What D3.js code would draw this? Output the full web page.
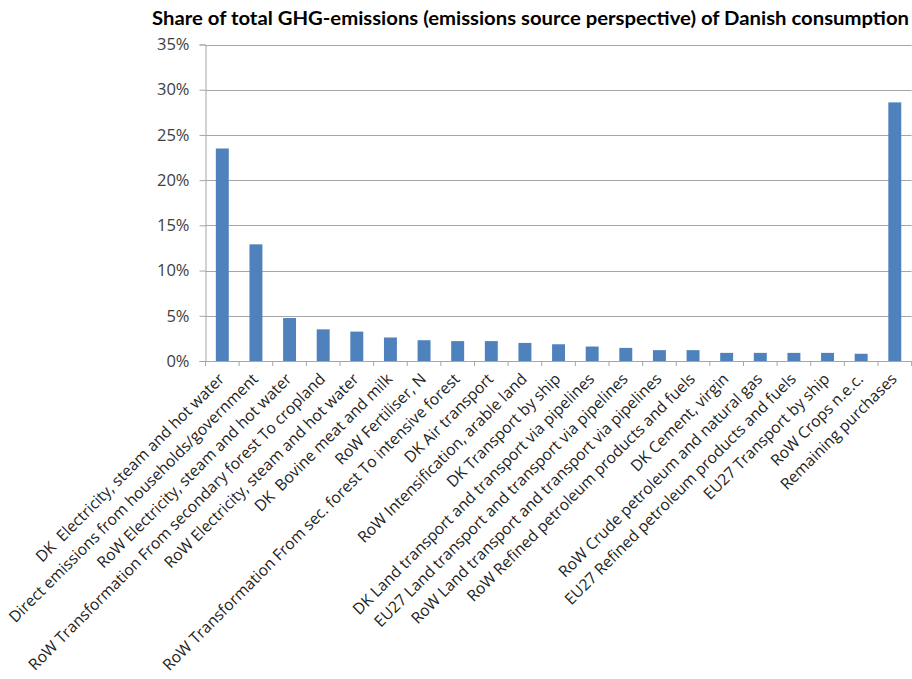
<!DOCTYPE html>
<html>
<head>
<meta charset="utf-8">
<script src="https://cdn.jsdelivr.net/npm/d3@7"></script>
<style>
  html, body { margin: 0; padding: 0; background: #fff; }
  svg { display: block; }
  text { white-space: pre; }
</style>
</head>
<body>
<svg id="chart" width="912" height="679"></svg>
<script>
const title = "Share of total GHG-emissions (emissions source perspective) of Danish consumption";
const categories = [
  "DK  Electricity, steam and hot water",
  "Direct emissions from households/government",
  "RoW Electricity, steam and hot water",
  "RoW Transformation From secondary forest To cropland",
  "RoW Electricity, steam and hot water",
  "DK  Bovine meat and milk",
  "RoW Fertiliser, N",
  "RoW Transformation From sec. forest To intensive forest",
  "DK Air transport",
  "RoW Intensification, arable land",
  "DK Transport by ship",
  "DK Land transport and transport via pipelines",
  "EU27 Land transport and transport via pipelines",
  "RoW Land transport and transport via pipelines",
  "RoW Refined petroleum products and fuels",
  "DK Cement, virgin",
  "RoW Crude petroleum and natural gas",
  "EU27 Refined petroleum products and fuels",
  "EU27 Transport by ship",
  "RoW Crops n.e.c.",
  "Remaining purchases"
];
const shares = [23.5, 12.9, 4.75, 3.5, 3.25, 2.6, 2.3, 2.2, 2.2, 2.0, 1.85, 1.6, 1.45, 1.2, 1.2, 0.9, 0.9, 0.9, 0.9, 0.8, 28.6];
const yTicks = [0, 5, 10, 15, 20, 25, 30, 35];

const svg = d3.select("#chart");
const pLeft = 205.5, pRight = 911.6, pTop = 44.5, pBottom = 361;

const pad = 0.615;
const x = d3.scaleBand().domain(d3.range(categories.length)).range([pLeft, pRight])
  .paddingInner(pad).paddingOuter(pad / 2);
const y = d3.scaleLinear().domain([0, 35]).range([pBottom, pTop]);

const gridColor = "#a6a6a6";
const textColor = "#404040";
const font = "'Open Sans', Lato, sans-serif";

// Title
svg.append("text")
  .attr("x", 152).attr("y", 24.5)
  .attr("font-family", "Lato, sans-serif").attr("font-weight", "bold").attr("font-size", 19.5)
  .attr("fill", "#000")
  .attr("textLength", 757).attr("lengthAdjust", "spacingAndGlyphs")
  .text(title);

// y axis
const yAxis = d3.axisLeft(y).tickValues(yTicks).tickSize(6).tickPadding(10)
  .tickFormat(d => d + "%");
const gy = svg.append("g").attr("transform", `translate(${pLeft},0)`).call(yAxis);
gy.select(".domain").attr("stroke", gridColor);
gy.selectAll(".tick line").attr("stroke", gridColor);
gy.selectAll(".tick text").attr("font-family", font).attr("font-size", 16.5).attr("fill", textColor);

// gridlines
svg.append("g").selectAll("line").data(yTicks.filter(d => d > 0)).join("line")
  .attr("x1", pLeft).attr("x2", pRight)
  .attr("y1", d => Math.round(y(d)) + 0.5).attr("y2", d => Math.round(y(d)) + 0.5)
  .attr("stroke", gridColor).attr("stroke-width", 1.2);

// Bars
svg.append("g").selectAll("rect").data(shares).join("rect")
  .attr("x", (d, i) => x(i))
  .attr("width", x.bandwidth())
  .attr("y", d => y(d))
  .attr("height", d => y(0) - y(d))
  .attr("fill", "#4F81BD");

// X axis
const xAxis = d3.axisBottom(x).tickSize(0).tickPadding(0).tickFormat(i => categories[i]);
const gx = svg.append("g").attr("transform", `translate(0,${pBottom})`).call(xAxis);
gx.select(".domain").remove();
svg.append("line").attr("x1", pLeft).attr("x2", pRight).attr("y1", pBottom + 0.5).attr("y2", pBottom + 0.5)
  .attr("stroke", gridColor).attr("stroke-width", 1.2);
const step = x.step();
svg.append("g").selectAll("line").data(d3.range(categories.length + 1)).join("line")
  .attr("x1", i => pLeft + i * step).attr("x2", i => pLeft + i * step)
  .attr("y1", pBottom).attr("y2", pBottom + 5)
  .attr("stroke", gridColor);

gx.selectAll(".tick text")
  .attr("font-family", font).attr("font-size", 15.7).attr("fill", "#222")
  .attr("text-anchor", "end")
  .attr("dy", "0")
  .attr("transform", "translate(3,19) rotate(-45)");
</script>
</body>
</html>
